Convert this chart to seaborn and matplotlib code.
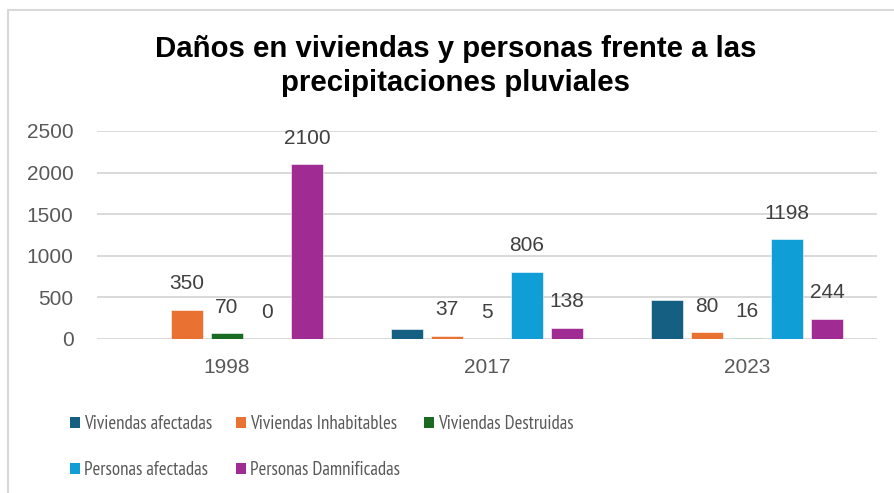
import matplotlib
matplotlib.use("Agg")
import matplotlib.pyplot as plt
from matplotlib.lines import Line2D
from matplotlib.patches import Patch
import seaborn as sns
import pandas as pd

# Data
years = ["1998", "2017", "2023"]
series = ["Viviendas afectadas", "Viviendas Inhabitables", "Viviendas Destruidas",
          "Personas afectadas", "Personas Damnificadas"]
viviendas_afectadas = [0, 117, 465]
viviendas_inhabitables = [350, 37, 80]
viviendas_destruidas = [70, 5, 16]
personas_afectadas = [0, 806, 1198]
personas_damnificadas = [2100, 138, 244]
labelled = ["Viviendas Inhabitables", "Viviendas Destruidas",
            "Personas afectadas", "Personas Damnificadas"]

colors = ["#156082", "#E97132", "#196B24", "#0F9ED5", "#A02B93"]

values = [viviendas_afectadas, viviendas_inhabitables, viviendas_destruidas,
          personas_afectadas, personas_damnificadas]
rows = []
for name, vals in zip(series, values):
    for yr, v in zip(years, vals):
        rows.append({"Año": yr, "Serie": name, "Valor": v})
df = pd.DataFrame(rows)

sns.set_theme(style="white")
plt.rcParams["font.family"] = ["Liberation Sans", "DejaVu Sans"]

W, H = 895, 493
fig = plt.figure(figsize=(W / 100, H / 100), dpi=100)
ax = fig.add_axes([97 / W, 1 - 339 / H, 780 / W, 208 / H])

sns.barplot(data=df, x="Año", y="Valor", hue="Serie", order=years,
            hue_order=series, palette=colors, width=0.77, gap=0.2,
            saturation=1, ax=ax, edgecolor="white", linewidth=0.4)

ax.set_ylim(0, 2500)
ax.set_xlim(-0.5, 2.5)
ax.set_yticks(range(0, 2501, 500))
ax.yaxis.grid(True, color="#d9d9d9", linewidth=1.4)
ax.set_axisbelow(True)
for s in ax.spines.values():
    s.set_visible(False)
ax.set_xlabel("")
ax.set_ylabel("")
ax.tick_params(axis="both", length=0, labelsize=15, labelcolor="#595959")
ax.tick_params(axis="y", pad=17)
ax.tick_params(axis="x", pad=14)

# Value labels above the bars
for name, cont in zip(series, ax.containers):
    if name not in labelled:
        continue
    for bar, v in zip(cont, df[df["Serie"] == name]["Valor"]):
        ax.annotate(f"{int(v)}", (bar.get_x() + bar.get_width() / 2, bar.get_height()),
                    xytext=(0, 26), textcoords="offset pixels", ha="center",
                    va="center", fontsize=15, color="#404040")

ax.get_legend().remove()

# Title
fig.text(456 / W, 1 - 66 / H,
         "Daños en viviendas y personas frente a las\nprecipitaciones pluviales",
         ha="center", va="center", fontsize=21.2, fontweight="bold",
         color="#000000", linespacing=1.3)

# Legend, filled row by row
handles = [Patch(facecolor=c, edgecolor="none") for c in colors]
order = [0, 3, 1, 4, 2]
leg = fig.legend([handles[i] for i in order], [series[i] for i in order],
                 ncol=3, loc="upper left", bbox_to_anchor=(70 / W, 1 - 415 / H),
                 frameon=False, handlelength=0.55, handleheight=0.55,
                 handletextpad=0.2, columnspacing=1.25, labelspacing=1.5,
                 prop={"family": ["PT Sans Narrow", "Liberation Sans"], "size": 13.6},
                 labelcolor="#595959", borderaxespad=0, borderpad=0)

# Chart frame
fig.add_artist(Line2D([8 / W, 1], [1 - 10 / H, 1 - 10 / H], transform=fig.transFigure,
                      color="#d9d9d9", linewidth=1.5))
fig.add_artist(Line2D([8 / W, 8 / W], [0, 1 - 10 / H], transform=fig.transFigure,
                      color="#d9d9d9", linewidth=1.5))

fig.savefig("out.png", dpi=100, facecolor="white")
